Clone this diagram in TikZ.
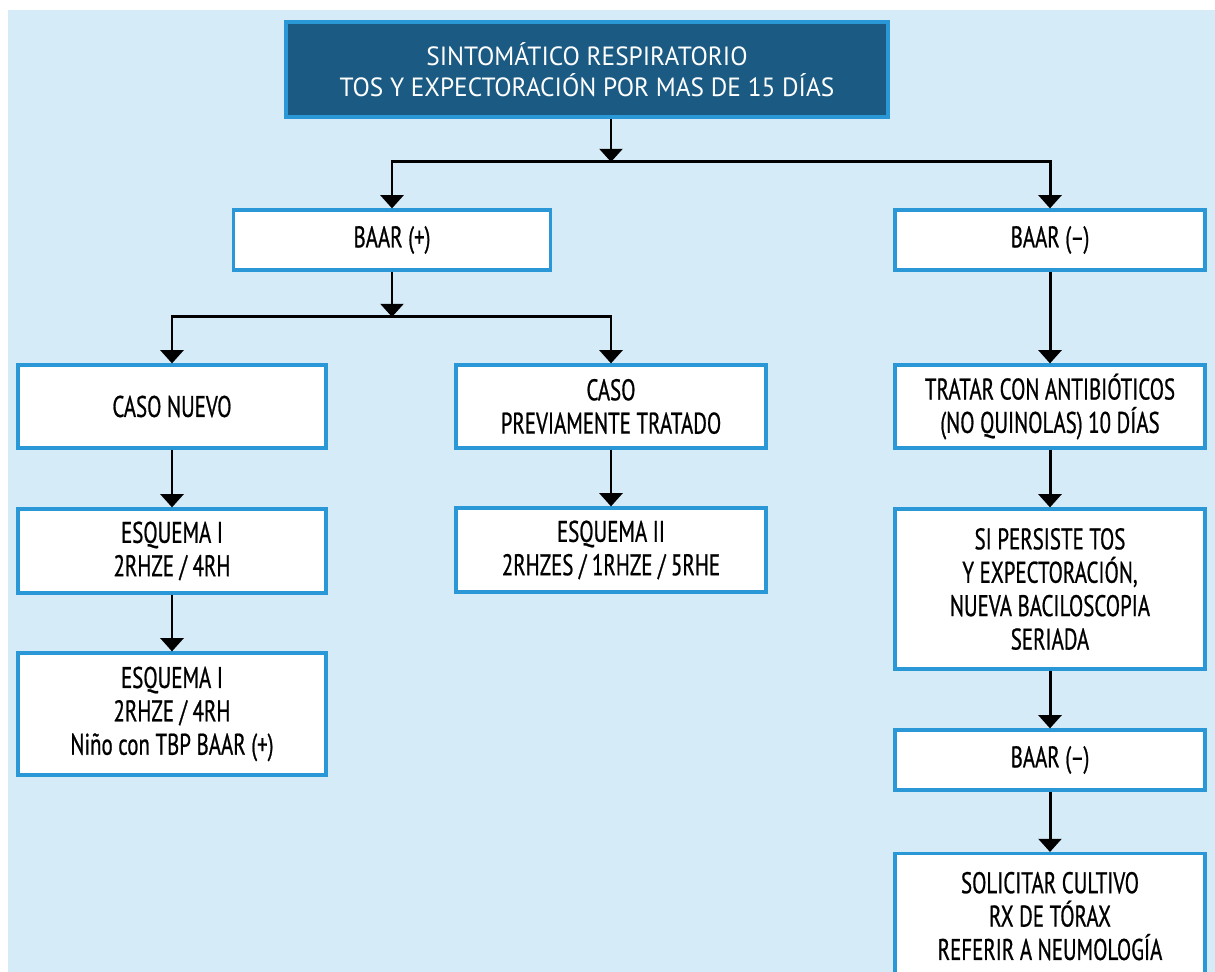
\documentclass[tikz,border=0pt]{standalone}
\usepackage{fontspec}
\setmainfont{PT Sans}[FakeStretch=0.7, FakeBold=0.7]
\newfontfamily\titfont{PT Sans}[FakeStretch=0.96]
\usetikzlibrary{arrows.meta}
\definecolor{fondo}{HTML}{D5ECF8}
\definecolor{borde}{HTML}{2A98D6}
\definecolor{titulo}{HTML}{1B5B83}
\tikzstyle{caja} = [rectangle, draw=borde, line width=0.065cm, fill=white, minimum width=6.2cm, align=center, text=black, inner sep=0pt, font=\fontsize{17}{19}\selectfont]
\tikzstyle{cabecera} = [caja, fill=titulo, text=white, minimum width=12.04cm, minimum height=1.9cm, font=\titfont\fontsize{15}{17.5}\selectfont]
\tikzstyle{flecha} = [draw, line width=1.7pt, -{Triangle[width=13pt,length=7.5pt]}]

\begin{document}
\begin{tikzpicture}[x=0.02cm, y=-0.02cm]
	\useasboundingbox (0,0) rectangle (1215,972);
	\fill[fondo] (8,10) rectangle (1215,972);
	\node[cabecera] (sintoma) at (587,69.5) {SINTOMÁTICO RESPIRATORIO\\TOS Y EXPECTORACIÓN POR MAS DE 15 DÍAS};
	\node[caja, minimum width=6.34cm, minimum height=1.2cm] (bpos) at (392,240) {BAAR (+)};
	\node[caja, minimum height=1.2cm] (bneg) at (1050,240) {BAAR (--)};
	\node[caja, minimum width=6.16cm, minimum height=1.66cm] (nuevo) at (172,406.5) {CASO NUEVO};
	\node[caja, minimum height=1.66cm] (previo) at (611,406.5) {CASO\\PREVIAMENTE TRATADO};
	\node[caja, minimum height=1.66cm] (tratar) at (1050,406.5) {TRATAR CON ANTIBIÓTICOS\\(NO QUINOLAS) 10 DÍAS};
	\node[caja, minimum width=6.16cm, minimum height=1.68cm] (esqI) at (172,551) {ESQUEMA I\\2RHZE / 4RH};
	\node[caja, minimum height=1.68cm] (esqII) at (611,550) {ESQUEMA II\\2RHZES / 1RHZE / 5RHE};
	\node[caja, minimum width=6.16cm, minimum height=2.44cm] (nino) at (172,714) {ESQUEMA I\\2RHZE / 4RH\\Niño con TBP BAAR (+)};
	\node[caja, minimum height=3.2cm] (persiste) at (1050,589) {SI PERSISTE TOS\\Y EXPECTORACIÓN,\\NUEVA BACILOSCOPIA\\SERIADA};
	\node[caja, minimum height=1.2cm] (bneg2) at (1050,760) {BAAR (--)};
	\node[caja, minimum height=2.5cm, anchor=north] (cultivo) at (1050,852) {SOLICITAR CULTIVO\\RX DE TÓRAX\\REFERIR A NEUMOLOGÍA};
	\coordinate (r1) at (611,162);
	\coordinate (r2) at (392,317);
	\draw[flecha] (r1 |- sintoma.south) -- (r1);
	\draw[flecha] (r1) -| (bpos.north);
	\draw[flecha] (r1) -| (bneg.north);
	\draw[flecha] (bpos) -- (r2);
	\draw[flecha] (r2) -| (nuevo.north);
	\draw[flecha] (r2) -| (previo.north);
	\draw[flecha] (nuevo) -- (esqI);
	\draw[flecha] (esqI) -- (nino);
	\draw[flecha] (previo) -- (esqII);
	\draw[flecha] (bneg) -- (tratar);
	\draw[flecha] (tratar) -- (persiste);
	\draw[flecha] (persiste) -- (bneg2);
	\draw[flecha] (bneg2) -- (cultivo);
\end{tikzpicture}
\end{document}
